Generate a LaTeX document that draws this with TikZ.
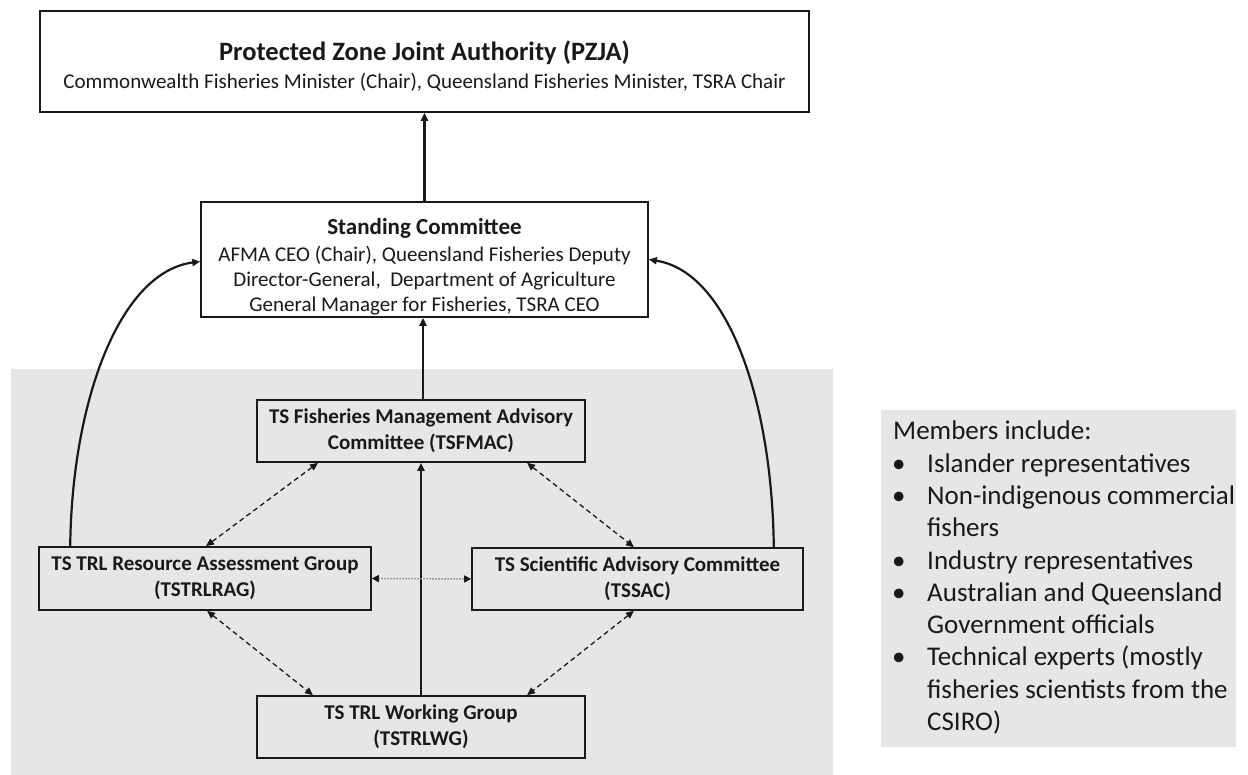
\documentclass[tikz,border=0pt]{standalone}
\usepackage{fontspec}
\setmainfont{Carlito}
\usetikzlibrary{arrows.meta}
\definecolor{bggray}{RGB}{231,230,230}
\definecolor{ink}{RGB}{25,25,25}
\begin{document}
\begin{tikzpicture}[x=1pt,y=-1pt,
  box/.style={draw=ink, line width=1.6pt, inner sep=0pt, align=center, text=ink},
  grp/.style={box, font=\fontsize{21}{26}\selectfont\bfseries},
  solidarr/.style={draw=ink, line width=2.2pt, -{Triangle[length=8pt,width=7pt]}},
  dasharr/.style={draw=ink, line width=1.3pt, dash pattern=on 5pt off 3.5pt,
     {Triangle[length=8pt,width=7pt]}-{Triangle[length=8pt,width=7pt]}},
  dotarr/.style={draw=black!45, line width=1.4pt, dash pattern=on 1.5pt off 1.5pt,
     {Triangle[length=7pt,width=7pt,color=ink]}-{Triangle[length=7pt,width=7pt,color=ink]}}
]
\useasboundingbox (0,0) rectangle (1248,775);
\fill[white] (0,0) rectangle (1248,775);
% backgrounds
\fill[bggray] (11,369) rectangle (833,775);
\fill[bggray] (881,410) rectangle (1236,747);

% top boxes
\node[box, minimum width=769pt, minimum height=101pt, font=\fontsize{21}{28}\selectfont] (pzja) at (424.5,61.5)
  {{\fontsize{26.5}{28}\selectfont\bfseries\rule{0pt}{28pt}Protected Zone Joint Authority (PZJA)}\\
   Commonwealth Fisheries Minister (Chair), Queensland Fisheries Minister, TSRA Chair};
\node[box, minimum width=447pt, minimum height=115pt, font=\fontsize{21}{25}\selectfont] (sc) at (424.5,259.5)
  {{\fontsize{23}{25}\selectfont\bfseries\rule{0pt}{30pt}Standing Committee}\\[2pt]
   AFMA CEO (Chair), Queensland Fisheries Deputy\\
   Director-General,\ \ Department of Agriculture\\
   General Manager for Fisheries, TSRA CEO};

% group boxes
\node[grp, minimum width=328pt, minimum height=62pt] (fmac) at (421,431)
  {TS Fisheries Management Advisory\\Committee (TSFMAC)};
\node[grp, minimum width=332pt, minimum height=63pt] (rag) at (205,578.5)
  {TS TRL Resource Assessment Group\\(TSTRLRAG)};
\node[grp, minimum width=331pt, minimum height=62pt] (sac) at (637.5,579)
  {TS Scientific Advisory Committee\\(TSSAC)};
\node[grp, minimum width=328pt, minimum height=62pt] (wg) at (421,727)
  {TS TRL Working Group\\(TSTRLWG)};

% members list
\node[anchor=north west, inner sep=0pt, text=ink, font=\fontsize{27}{32.3}\selectfont] (members) at (893,417)
  {\begin{tabular}{@{}l@{}l@{}}
   \multicolumn{2}{@{}l@{}}{Members include:}\\
   \makebox[34pt][l]{\hspace{-1pt}\textbullet} & Islander representatives\\
   \makebox[34pt][l]{\hspace{-1pt}\textbullet} & Non-indigenous commercial\\
   & fishers\\
   \makebox[34pt][l]{\hspace{-1pt}\textbullet} & Industry representatives\\
   \makebox[34pt][l]{\hspace{-1pt}\textbullet} & Australian and Queensland\\
   & Government officials\\
   \makebox[34pt][l]{\hspace{-1pt}\textbullet} & Technical experts (mostly\\
   & fisheries scientists from the\\
   & CSIRO)
   \end{tabular}};

% solid arrows
\draw[solidarr] (pzja.south |- sc.north) -- (pzja.south);
\draw[solidarr] ([xshift=2pt]fmac.north) -- ([xshift=2pt]fmac.north |- sc.south);
\draw[solidarr] (wg.north) -- (fmac.south);
\draw[solidarr] ([xshift=32pt]rag.north west) .. controls (72,400) and (120,272) .. ([yshift=-2pt]sc.west);
\draw[solidarr] ([xshift=-30pt]sac.north east) .. controls (772,400) and (728,272) .. (sc.east);

% dashed arrows
\draw[dasharr] ([xshift=-103pt]fmac.south) -- ([xshift=1pt]rag.north);
\draw[dasharr] ([xshift=106pt]fmac.south) -- ([xshift=-3.5pt]sac.north);
\draw[dasharr] ([xshift=2pt]rag.south) -- ([xshift=-108pt]wg.north);
\draw[dasharr] ([xshift=-3.5pt]sac.south) -- ([xshift=106pt]wg.north);

% dotted arrow
\draw[dotarr] (rag.east) -- (sac.west);
\end{tikzpicture}
\end{document}
